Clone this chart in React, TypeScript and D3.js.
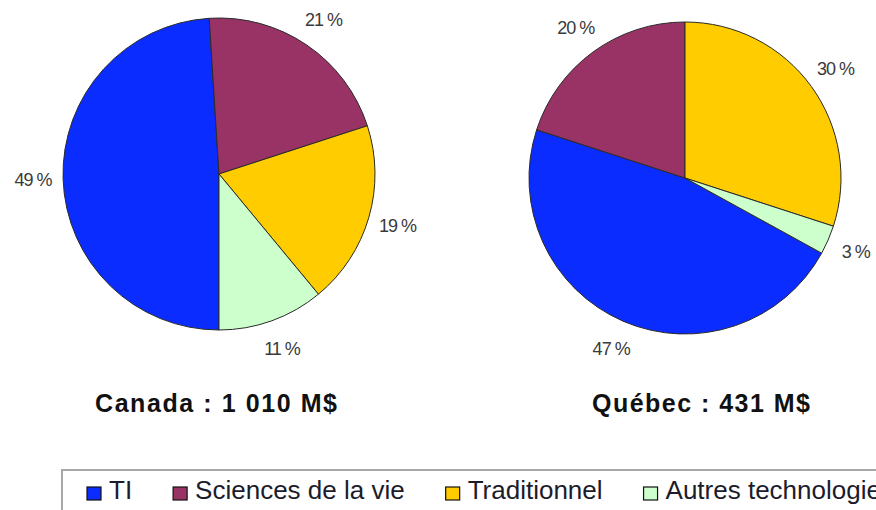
import React, { useEffect, useRef } from "react";
import * as d3 from "d3";

// categories and values
const categories = ["TI", "Sciences de la vie", "Traditionnel", "Autres technologies"];
const colors = ["#0a2cff", "#993366", "#ffcc00", "#ccffcc"];
const canadaValues = [49, 21, 19, 11];
const quebecValues = [47, 20, 30, 3];
const titles = ["Canada : 1 010 M$", "Québec : 431 M$"];

const width = 876;
const height = 510;

export default function App() {
  const ref = useRef<SVGSVGElement>(null);

  useEffect(() => {
    const svg = d3.select(ref.current);
    svg.selectAll("*").remove();

    const r = 156;
    const pies = [
      { values: canadaValues, cx: 219, cy: 174, start: Math.PI, title: titles[0], tx: 216, tw: 242 },
      // Québec: Traditionnel begins at 12 o'clock
      { values: quebecValues, cx: 685, cy: 178, start: 0, title: titles[1], tx: 701, tw: 218 },
    ];

    const arc = d3.arc<any>().innerRadius(0).outerRadius(r);
    const labelArc = d3.arc<any>().innerRadius(186).outerRadius(186);

    pies.forEach((p) => {
      let start = p.start;
      if (p.start === 0) {
        const total = d3.sum(p.values);
        start = -((p.values[0] + p.values[1]) / total) * 2 * Math.PI;
      }
      const pie = d3.pie<number>().sort(null).value((d) => d)
        .startAngle(start).endAngle(start + 2 * Math.PI);
      const arcs = pie(p.values);

      const g = svg.append("g").attr("transform", `translate(${p.cx},${p.cy})`);
      g.selectAll("path")
        .data(arcs)
        .join("path")
        .attr("d", arc)
        .attr("fill", (d, i) => colors[i])
        .attr("stroke", "#2a2a2a")
        .attr("stroke-width", 1);

      g.selectAll("text")
        .data(arcs)
        .join("text")
        .attr("transform", (d) => `translate(${labelArc.centroid(d)})`)
        .attr("text-anchor", "middle")
        .attr("dy", "0.35em")
        .attr("font-family", "Liberation Sans, Arial, sans-serif")
        .attr("font-size", 18)
        .attr("letter-spacing", -1)
        .attr("fill", "#3a3a3a")
        .text((d) => `${d.data} %`);

      svg.append("text")
        .attr("x", p.tx)
        .attr("y", 412)
        .attr("text-anchor", "middle")
        .attr("font-family", "Liberation Sans, Arial, sans-serif")
        .attr("font-weight", "bold")
        .attr("font-size", 25)
        .attr("textLength", p.tw)
        .attr("lengthAdjust", "spacing")
        .attr("fill", "#111")
        .text(p.title);
    });

    // legend
    const lg = svg.append("g");
    lg.append("rect")
      .attr("x", 62).attr("y", 470)
      .attr("width", 900).attr("height", 100)
      .attr("fill", "none")
      .attr("stroke", "#a8a8a8")
      .attr("stroke-width", 2);

    let x = 87;
    categories.forEach((c, i) => {
      lg.append("rect")
        .attr("x", x).attr("y", 487)
        .attr("width", 14).attr("height", 13)
        .attr("fill", colors[i])
        .attr("stroke", "#111")
        .attr("stroke-width", 1.2);
      const t = lg.append("text")
        .attr("x", x + 22)
        .attr("y", 499)
        .attr("font-family", "Liberation Sans, Arial, sans-serif")
        .attr("font-size", 26)
        .attr("fill", "#1c1c2c")
        .text(c);
      const w = (t.node() as SVGTextElement).getComputedTextLength();
      x += 22 + w + 41;
    });
  }, []);

  return (
    <svg
      ref={ref}
      width={width}
      height={height}
      style={{ position: "absolute", left: 0, top: 0, background: "#fff" }}
    />
  );
}
